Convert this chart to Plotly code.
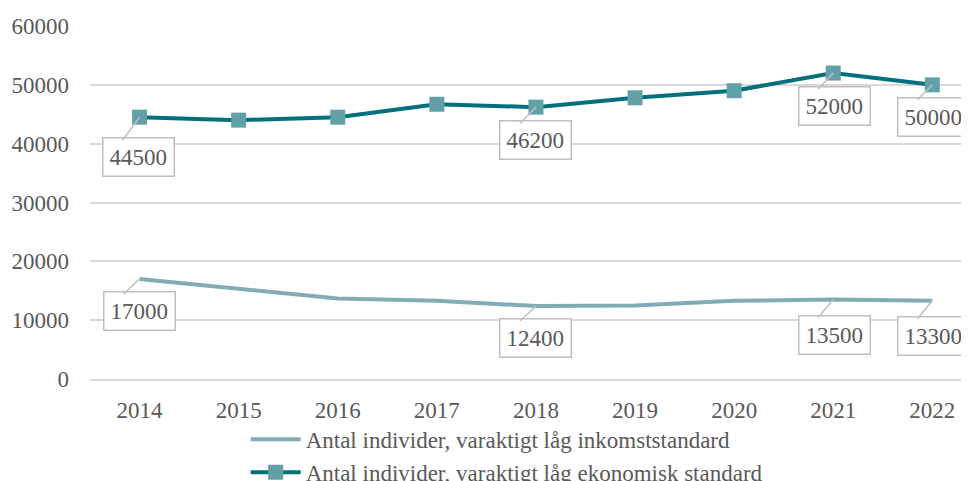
import plotly.graph_objects as go

years = ["2014", "2015", "2016", "2017", "2018", "2019", "2020", "2021", "2022"]
inkomst = [17000, 15300, 13700, 13300, 12400, 12500, 13300, 13500, 13300]
ekonomisk = [44500, 44000, 44500, 46700, 46200, 47800, 49000, 52000, 50000]
name_ink = "Antal individer, varaktigt låg inkomststandard"
name_eko = "Antal individer, varaktigt låg ekonomisk standard"

# labelled points: (year index, pixel offset x, pixel offset y of label centre)
labels_eko = [(0, -1, 40), (4, 0, 33), (7, 1, 33), (8, 1, 32)]
labels_ink = [(0, 0, 32), (4, 0, 32), (7, 1, 35), (8, 1, 35)]

FONT = "Times New Roman, Liberation Serif, serif"
GRAY = "#595959"
BORDER = "#BFBFBF"

fig = go.Figure()
fig.add_trace(go.Scatter(
    x=years, y=inkomst, name=name_ink, mode="lines",
    line=dict(color="#82ACB5", width=4),
))
fig.add_trace(go.Scatter(
    x=years, y=ekonomisk, name=name_eko, mode="lines+markers",
    line=dict(color="#00707C", width=4),
    marker=dict(symbol="square", size=15, color="#62A0A8"),
))

for series, lab in ((ekonomisk, labels_eko), (inkomst, labels_ink)):
    for i, dx, dy in lab:
        # boxed label
        fig.add_annotation(
            x=i, y=series[i], xref="x", yref="y", text=str(series[i]),
            showarrow=True, arrowcolor="rgba(0,0,0,0)", arrowwidth=0.1, arrowhead=0,
            ax=dx, ay=dy,
            bgcolor="white", bordercolor=BORDER, borderwidth=1.5, borderpad=6,
            font=dict(family=FONT, size=23, color=GRAY),
        )
        # callout leader
        fig.add_annotation(
            x=i, y=series[i], xref="x", yref="y", text=" ",
            showarrow=True, arrowhead=0, arrowwidth=1.5, arrowcolor=BORDER,
            ax=dx - 16, ay=dy - 17, standoff=0, startstandoff=0,
            borderwidth=0, borderpad=0, font=dict(size=1),
        )

fig.update_layout(
    width=961, height=473,
    margin=dict(l=82, r=0, t=18, b=102, autoexpand=False),
    plot_bgcolor="white", paper_bgcolor="white",
    font=dict(family=FONT, size=23, color=GRAY),
    showlegend=True,
    legend=dict(orientation="v", x=0.474, xanchor="center", y=-0.11, yanchor="top",
                font=dict(family=FONT, size=23, color=GRAY), traceorder="normal",
                itemwidth=50, bgcolor="rgba(0,0,0,0)"),
    xaxis=dict(range=[-0.5, 8.37], showgrid=False, showline=True, linecolor="#D9D9D9",
               linewidth=1.5, ticks="", tickfont=dict(family=FONT, size=23, color=GRAY),
               ticklabelstandoff=10, fixedrange=True, automargin=False),
    yaxis=dict(range=[0, 60000], dtick=10000, tickformat="d", showgrid=True,
               gridcolor="#D9D9D9", gridwidth=1.5, zeroline=False,
               tickfont=dict(family=FONT, size=23, color=GRAY),
               ticklabelstandoff=20, fixedrange=True, automargin=False),
)

fig.write_html("out.html")
